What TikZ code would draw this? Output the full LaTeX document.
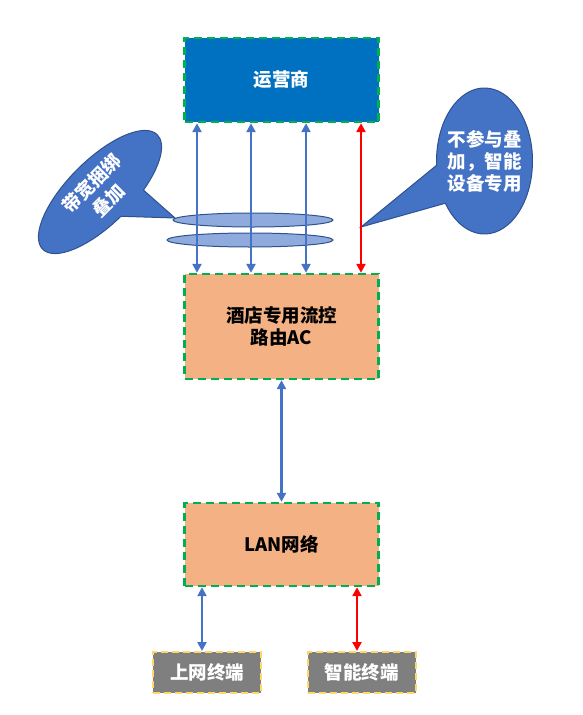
\documentclass[tikz,border=0pt]{standalone}
\usepackage{fontspec}
\setmainfont{Noto Sans CJK SC}
\usetikzlibrary{arrows.meta,shapes.geometric,shapes.callouts}
\definecolor{opblue}{HTML}{0070C0}
\definecolor{acorange}{HTML}{F4B183}
\definecolor{boxgreen}{HTML}{00B050}
\definecolor{linkblue}{HTML}{4472C4}
\definecolor{edgeblue}{HTML}{2F528F}
\definecolor{layerblue}{HTML}{8FAADC}
\definecolor{termgray}{HTML}{7F7F7F}
\definecolor{termyellow}{HTML}{FFD966}
\begin{document}
\begin{tikzpicture}[x=1pt,y=-1pt,
      font=\fontsize{18.5}{22}\selectfont\bfseries,
      netbox/.style={draw=boxgreen, line width=2.4pt, dash pattern=on 8pt off 5pt, inner sep=0pt, minimum width=194, align=center},
      termbox/.style={draw=termyellow, fill=termgray, text=white, line width=2pt, dash pattern=on 7pt off 4pt, inner sep=0pt, minimum width=108, minimum height=41},
      layer/.style={ellipse, draw=edgeblue, fill=layerblue, line width=1pt, inner sep=0pt, minimum height=14},
      talk/.style={ellipse callout, draw=edgeblue, fill=linkblue, text=white, line width=1pt, align=center},
      bluelink/.style={draw=linkblue, line width=2.4pt, {Triangle[width=9pt,length=9pt]}-{Triangle[width=9pt,length=9pt]}},
      redlink/.style={draw=red, line width=2.4pt, {Triangle[width=9pt,length=9pt]}-{Triangle[width=9pt,length=9pt]}}]
      \useasboundingbox (0,0) rectangle (583,715);

      \node[netbox, fill=opblue, text=white, minimum height=84] (op) at (281.5,80) {运营商};
      \node[netbox, fill=acorange, minimum height=105] (ac) at (281.5,326.5) {酒店专用流控\\路由AC};
      \node[netbox, fill=acorange, minimum height=83] (lan) at (281.5,544.5) {LAN网络};
      \node[termbox] (web) at (207,672.5) {上网终端};
      \node[termbox] (smart) at (361.5,672.5) {智能终端};

      % bundled links
      \node[layer, minimum width=160] (bond1) at (253,220) {};
      \node[layer, minimum width=166] (bond2) at (250,240) {};

      \coordinate (tipbond) at (175,218);
      \coordinate (tipred) at (361,227);
      \node[talk, rotate=45, inner sep=0pt, minimum width=162, minimum height=64,
            callout absolute pointer={(tipbond)}, callout pointer arc=25] (bondnote) at (100,192) {带宽捆绑\\[2pt]叠加};
      \node[talk, inner xsep=-8pt, inner ysep=0pt, minimum width=96, minimum height=146,
            callout absolute pointer={(tipred)}, callout pointer arc=32] (smartnote) at (484.5,161) {不参与叠\\加，智能\\设备专用};

      \draw [bluelink] ([xshift=-84.5]op.south) -- ([xshift=-84.5]ac.north);
      \draw [bluelink] ([xshift=-30.5]op.south) -- ([xshift=-30.5]ac.north);
      \draw [bluelink] ([xshift=24.5]op.south) -- ([xshift=24.5]ac.north);
      \draw [redlink] ([xshift=79.5]op.south) -- ([xshift=79.5]ac.north);
      \draw [bluelink] (ac.south) -- (lan.north);
      \draw [bluelink] ([xshift=-79.5]lan.south) -- ([xshift=-5]web.north);
      \draw [redlink] ([xshift=75.5]lan.south) -- ([xshift=-4.5]smart.north);

      \end{tikzpicture}
\end{document}
